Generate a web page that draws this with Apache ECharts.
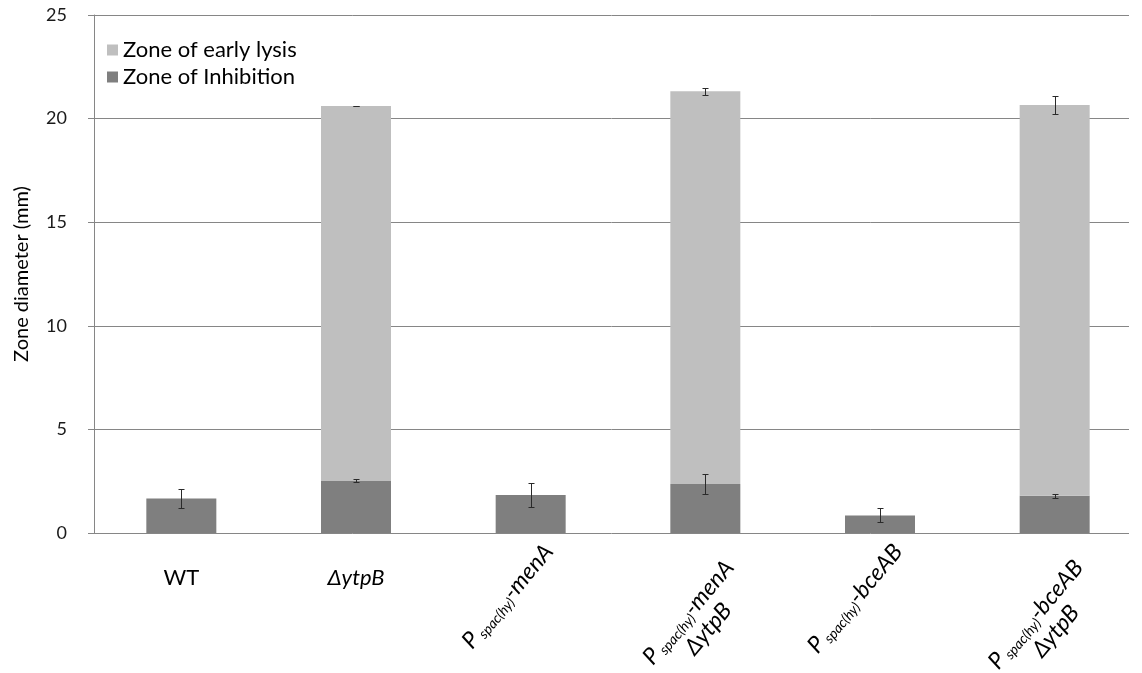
<!DOCTYPE html>
<html>
<head>
<meta charset="utf-8">
<script src="https://cdn.jsdelivr.net/npm/echarts@6/dist/echarts.min.js"></script>
<style>
  html, body { margin: 0; padding: 0; background: #ffffff; }
  #chart { width: 1142px; height: 673px; }
</style>
</head>
<body>
<div id="chart"></div>
<script>
// Strains tested (category order along the x axis)
const strains = ['WT', 'ΔytpB', 'Pspac(hy)-menA', 'Pspac(hy)-menA ΔytpB', 'Pspac(hy)-bceAB', 'Pspac(hy)-bceAB ΔytpB'];

// Label pieces for each strain: main text, subscript, tail, second line
const labelMain = ['WT', 'ΔytpB', 'P', 'P', 'P', 'P'];
const labelSub = ['', '', ' spac(hy)', ' spac(hy)', ' spac(hy)', ' spac(hy)'];
const labelTail = ['', '', '-menA', '-menA', '-bceAB', '-bceAB'];
const labelSecond = ['', '', '', 'ΔytpB', '', 'ΔytpB'];
const labelItalic = [false, true, true, true, true, true];

// Zone of inhibition (mm) and its standard deviation
const inhibition = [1.66, 2.53, 1.83, 2.36, 0.85, 1.80];
const inhibitionErr = [0.47, 0.06, 0.57, 0.50, 0.34, 0.10];

// Additional zone of early lysis stacked on top (mm) and its deviation
const lysis = [null, 18.08, null, 18.96, null, 18.86];
const lysisErr = [null, 0.02, null, 0.18, null, 0.45];

// Value axis
const yMin = 0, yMax = 25, yStep = 5;

const FONT = 'Lato, "Noto Sans", sans-serif';
const AXIS_GRAY = '#868686';
const COLOR_INHIB = '#7f7f7f';
const COLOR_LYSIS = '#bfbfbf';
const ERR_COLOR = '#2a2a2a';

const chart = echarts.init(document.getElementById('chart'), null, { renderer: 'canvas' });

// Error bar points: [category index, centre value, deviation]
const errInhib = inhibition.map((v, i) => [i, v, inhibitionErr[i]]);
const errLysis = lysis.map((v, i) => v == null ? null : [i, inhibition[i] + v, lysisErr[i]]).filter(d => d);

function renderErr(params, api) {
  const x = api.value(0), c = api.value(1), e = api.value(2);
  const top = api.coord([x, c + e]);
  const bot = api.coord([x, c - e]);
  const px = Math.round(top[0]) + 0.5;
  const t = Math.round(top[1]) + 0.5;
  const b = Math.round(bot[1]) + 0.5;
  const half = 3;
  const st = { stroke: ERR_COLOR, lineWidth: 1 };
  return {
    type: 'group',
    children: [
      { type: 'line', shape: { x1: px, y1: t, x2: px, y2: b }, style: st },
      { type: 'line', shape: { x1: px - half, y1: t, x2: px + half, y2: t }, style: st },
      { type: 'line', shape: { x1: px - half, y1: b, x2: px + half, y2: b }, style: st }
    ]
  };
}

const option = {
  backgroundColor: '#ffffff',
  animation: false,
  legend: {
    data: ['Zone of early lysis', 'Zone of Inhibition'],
    orient: 'vertical',
    left: 102,
    top: 34,
    icon: 'rect',
    itemWidth: 11,
    itemHeight: 11,
    itemGap: 5,
    textStyle: { fontFamily: FONT, fontSize: 22, color: '#000000' }
  },
  grid: [
    // frame with gridlines and the value axis
    { left: 94, right: 13, top: 15, bottom: 140, containLabel: false },
    // bar area: wider band layout so category centres line up with the bars
    { left: 94, width: 1058, top: 15, bottom: 140, containLabel: false }
  ],
  xAxis: [
    { gridIndex: 0, type: 'category', data: [], show: false },
    {
      gridIndex: 1, type: 'category', data: strains,
      axisLine: { show: false }, axisTick: { show: false }, axisLabel: { show: false }
    }
  ],
  yAxis: [
    {
      gridIndex: 0, type: 'value', min: yMin, max: yMax, interval: yStep,
      name: 'Zone diameter (mm)',
      nameLocation: 'middle',
      nameGap: 62,
      nameTextStyle: { fontFamily: FONT, fontSize: 20, color: '#000000' },
      axisLine: { show: true, lineStyle: { color: AXIS_GRAY, width: 1 } },
      axisTick: { show: true, length: 6, lineStyle: { color: AXIS_GRAY } },
      axisLabel: { fontFamily: FONT, fontSize: 18, color: '#1a1a1a', margin: 27 },
      splitLine: { show: true, lineStyle: { color: AXIS_GRAY, width: 1 } }
    },
    { gridIndex: 1, type: 'value', min: yMin, max: yMax, interval: yStep, show: false }
  ],
  series: [
    {
      name: 'Zone of Inhibition', type: 'bar', stack: 'zone',
      xAxisIndex: 1, yAxisIndex: 1, barWidth: 70,
      itemStyle: { color: COLOR_INHIB },
      data: inhibition
    },
    {
      name: 'Zone of early lysis', type: 'bar', stack: 'zone',
      xAxisIndex: 1, yAxisIndex: 1, barWidth: 70,
      itemStyle: { color: COLOR_LYSIS },
      data: lysis
    },
    {
      name: 'inhibition-sd', type: 'custom', xAxisIndex: 1, yAxisIndex: 1, z: 5,
      renderItem: renderErr, data: errInhib, silent: true
    },
    {
      name: 'lysis-sd', type: 'custom', xAxisIndex: 1, yAxisIndex: 1, z: 5,
      renderItem: renderErr, data: errLysis, silent: true
    }
  ]
};

chart.setOption(option);

// Category labels: horizontal for short names, slanted for promoter constructs
const measureCtx = document.createElement('canvas').getContext('2d');
function textWidth(str, size, italic) {
  measureCtx.font = (italic ? 'italic ' : '') + size + 'px ' + FONT;
  return measureCtx.measureText(str).width;
}

const MAIN_SIZE = 23, SUB_SIZE = 14, LINE_H = 26;
const SLANT = Math.PI * 50 / 180;
const rich = {
  m: { fontFamily: FONT, fontStyle: 'italic', fontSize: MAIN_SIZE, lineHeight: LINE_H, verticalAlign: 'middle', fill: '#000' },
  s: { fontFamily: FONT, fontStyle: 'italic', fontSize: SUB_SIZE, lineHeight: 13, verticalAlign: 'bottom', fill: '#000' }
};

const graphics = [];
strains.forEach((name, i) => {
  const p = chart.convertToPixel({ gridIndex: 1 }, [i, 0]);
  if (!labelSub[i]) {
    graphics.push({
      type: 'text', x: p[0], y: p[1] + 34,
      style: {
        text: labelMain[i], fill: '#000',
        font: (labelItalic[i] ? 'italic ' : '') + 22 + 'px ' + FONT,
        align: 'center', verticalAlign: 'top'
      }
    });
  } else {
    const w1 = textWidth(labelMain[i], MAIN_SIZE, true) + textWidth(labelSub[i], SUB_SIZE, true) + textWidth(labelTail[i], MAIN_SIZE, true);
    let txt = '{m|' + labelMain[i] + '}{s|' + labelSub[i] + '}{m|' + labelTail[i] + '}';
    const twoLine = !!labelSecond[i];
    if (twoLine) txt += '\n{m|' + labelSecond[i] + '}';
    graphics.push({
      type: 'group',
      x: p[0] + (twoLine ? 14 : 8),
      y: p[1] + (twoLine ? 22 : 6),
      rotation: SLANT,
      children: [{
        type: 'text', x: -w1 / 2, y: 0,
        style: { text: txt, rich: rich, align: 'center', verticalAlign: 'top', fill: '#000' }
      }]
    });
  }
});
chart.setOption({ graphic: graphics });
</script>
</body>
</html>
